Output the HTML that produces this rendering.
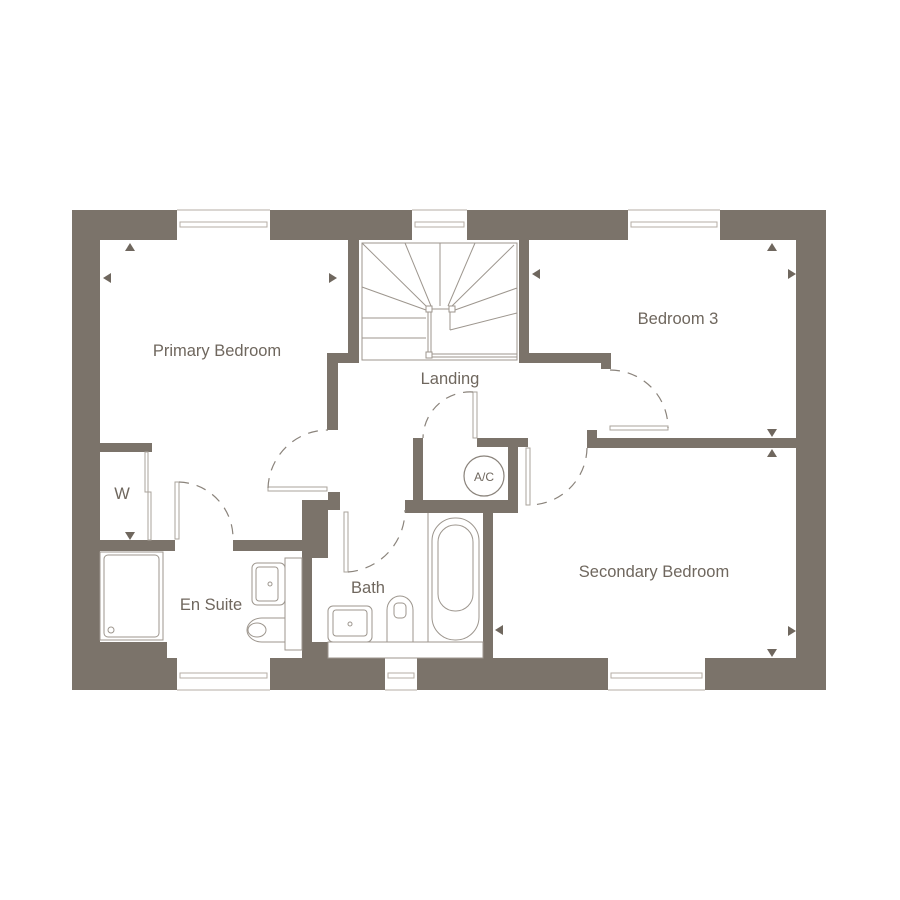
<!DOCTYPE html>
<html><head><meta charset="utf-8"><style>
html,body{margin:0;padding:0;background:#fff;}
svg{display:block;}
text{font-family:"Liberation Sans",sans-serif;fill:#6f675e;font-size:16.5px;text-anchor:middle;}
</style></head><body>
<svg width="900" height="900" viewBox="0 0 900 900" xmlns="http://www.w3.org/2000/svg">
<g fill="#7b736a">
<!-- outer walls -->
<rect x="72" y="210" width="754" height="30"/>
<rect x="72" y="210" width="28" height="480"/>
<rect x="796" y="210" width="30" height="480"/>
<rect x="72" y="658" width="754" height="32"/>
<rect x="72" y="642" width="95" height="48"/>
<!-- stair walls -->
<rect x="348" y="240" width="11" height="123"/>
<rect x="327" y="353" width="32" height="10"/>
<rect x="327" y="353" width="11" height="77"/>
<rect x="519" y="240" width="10" height="123"/>
<rect x="519" y="353" width="92" height="10"/>
<rect x="601" y="353" width="10" height="16"/>
<!-- bedroom3 / secondary -->
<rect x="587" y="438" width="209" height="10"/>
<rect x="587" y="430" width="10" height="18"/>
<!-- primary left -->
<rect x="100" y="443" width="52" height="9"/>
<!-- en suite top -->
<rect x="100" y="540" width="75" height="11"/>
<rect x="233" y="540" width="70" height="11"/>
<rect x="302" y="500" width="26" height="58"/>
<rect x="328" y="492" width="12" height="18"/>
<rect x="302" y="540" width="10" height="150"/>
<rect x="302" y="642" width="26" height="48"/>
<!-- AC cupboard -->
<rect x="413" y="438" width="10" height="75"/>
<rect x="405" y="500" width="113" height="13"/>
<rect x="508" y="438" width="10" height="75"/>
<rect x="477" y="438" width="51" height="9"/>
<!-- bath / secondary -->
<rect x="483" y="510" width="10" height="180"/>
</g>
<!-- windows -->
<g fill="#fff" stroke="#b5aea6" stroke-width="1">
<rect x="177" y="210" width="93" height="30" stroke="none"/>
<rect x="412" y="210" width="55" height="30" stroke="none"/>
<rect x="628" y="210" width="92" height="30" stroke="none"/>
<rect x="177" y="658" width="93" height="32" stroke="none"/>
<rect x="385" y="658" width="32" height="32" stroke="none"/>
<rect x="608" y="658" width="97" height="32" stroke="none"/>
<rect x="180" y="222" width="87" height="5"/>
<rect x="415" y="222" width="49" height="5"/>
<rect x="631" y="222" width="86" height="5"/>
<rect x="180" y="673" width="87" height="5"/>
<rect x="388" y="673" width="26" height="5"/>
<rect x="611" y="673" width="91" height="5"/>
</g>
<g fill="none" stroke="#b5aea6" stroke-width="1">
<line x1="177" y1="210" x2="270" y2="210"/><line x1="412" y1="210" x2="467" y2="210"/><line x1="628" y1="210" x2="720" y2="210"/>
<line x1="177" y1="690" x2="270" y2="690"/><line x1="385" y1="690" x2="417" y2="690"/><line x1="608" y1="690" x2="705" y2="690"/>
</g>
<!-- stairs -->
<g fill="none" stroke="#9d968e" stroke-width="1">
<rect x="362" y="243" width="155" height="117"/>
<line x1="362" y1="243" x2="426" y2="306"/>
<line x1="405" y1="243" x2="431" y2="306"/>
<line x1="440" y1="243" x2="440" y2="306"/>
<line x1="475" y1="243" x2="448" y2="306"/>
<line x1="514" y1="245" x2="452" y2="306"/>
<line x1="362" y1="287" x2="426" y2="310"/>
<line x1="362" y1="318" x2="426" y2="318"/>
<line x1="362" y1="338" x2="426" y2="338"/>
<line x1="517" y1="288" x2="455" y2="310"/>
<line x1="517" y1="313" x2="450" y2="330"/>
<line x1="450" y1="312" x2="450" y2="330"/>
<rect x="426" y="306" width="6" height="6"/><rect x="449" y="306" width="6" height="6"/><rect x="426" y="352" width="6" height="6"/>
<line x1="432" y1="309" x2="449" y2="309"/>
<line x1="428" y1="312" x2="428" y2="352"/><line x1="431" y1="312" x2="431" y2="352"/>
<line x1="432" y1="354" x2="517" y2="354"/><line x1="432" y1="357" x2="517" y2="357"/>
</g>
<!-- door leaves -->
<g fill="#fff" stroke="#aaa39b" stroke-width="1">
<rect x="268" y="487" width="59" height="4"/>
<rect x="344" y="512" width="4" height="60"/>
<rect x="473" y="392" width="4" height="46"/>
<rect x="610" y="426" width="58" height="4"/>
<rect x="526" y="448" width="4" height="57"/>
<rect x="175" y="482" width="4" height="57"/>
<rect x="145" y="452" width="3" height="40"/>
<rect x="148" y="492" width="3" height="48"/>
</g>
<!-- door swings -->
<g fill="none" stroke="#8a837b" stroke-width="1.2" stroke-dasharray="10,8">
<path d="M268 488 A60 60 0 0 1 328 430"/>
<path d="M348 572 A62 62 0 0 0 405 510"/>
<path d="M473 392 A47 47 0 0 0 423 438"/>
<path d="M610 370 A58 58 0 0 1 668 428"/>
<path d="M587 448 A58 58 0 0 1 530 505"/>
<path d="M179 482 A56 56 0 0 1 233 538"/>
</g>
<!-- AC -->
<circle cx="484" cy="476" r="20" fill="none" stroke="#8a837b" stroke-width="1.2"/>
<text x="484" y="481" style="font-size:12px">A/C</text>
<!-- en suite fixtures -->
<g fill="none" stroke="#9d968e" stroke-width="1">
<rect x="100" y="552" width="63" height="88"/>
<rect x="104" y="555" width="55" height="82" rx="4"/>
<circle cx="111" cy="630" r="3"/>
<rect x="285" y="558" width="17" height="92"/>
<rect x="252" y="563" width="33" height="42" rx="5"/>
<rect x="256" y="567" width="22" height="34" rx="3"/>
<circle cx="270" cy="584" r="2"/>
<path d="M285 618 L262 618 A15 12 0 0 0 262 642 L285 642"/>
<ellipse cx="257" cy="630" rx="9" ry="7"/>
<line x1="302" y1="650" x2="285" y2="650"/>
<!-- bath room -->
<rect x="328" y="642" width="155" height="16"/>
<rect x="328" y="606" width="44" height="36" rx="5"/>
<rect x="333" y="610" width="34" height="26" rx="3"/>
<circle cx="350" cy="624" r="2"/>
<path d="M387 642 L387 610 A13 14 0 0 1 413 610 L413 642"/>
<rect x="394" y="603" width="12" height="15" rx="4"/>
<line x1="428" y1="513" x2="428" y2="642"/>
<rect x="432" y="518" width="47" height="122" rx="23"/>
<rect x="438" y="525" width="35" height="86" rx="17"/>
</g>
<!-- dimension arrows -->
<g fill="#6f675e">
<path d="M125 251 L135 251 L130 243 Z"/>
<path d="M103 278 L111 273 L111 283 Z"/>
<path d="M337 278 L329 273 L329 283 Z"/>
<path d="M532 274 L540 269 L540 279 Z"/>
<path d="M767 251 L777 251 L772 243 Z"/>
<path d="M796 274 L788 269 L788 279 Z"/>
<path d="M767 429 L777 429 L772 437 Z"/>
<path d="M767 457 L777 457 L772 449 Z"/>
<path d="M495 630 L503 625 L503 635 Z"/>
<path d="M796 631 L788 626 L788 636 Z"/>
<path d="M767 649 L777 649 L772 657 Z"/>
<path d="M125 532 L135 532 L130 540 Z"/>
<path d="M487 630 L495 625 L495 635 Z" fill="none"/>
</g>
<!-- labels -->
<text x="217" y="356">Primary Bedroom</text>
<text x="450" y="384">Landing</text>
<text x="678" y="324">Bedroom 3</text>
<text x="654" y="577">Secondary Bedroom</text>
<text x="211" y="610">En Suite</text>
<text x="368" y="593">Bath</text>
<text x="122" y="499">W</text>
</svg>
</body></html>
